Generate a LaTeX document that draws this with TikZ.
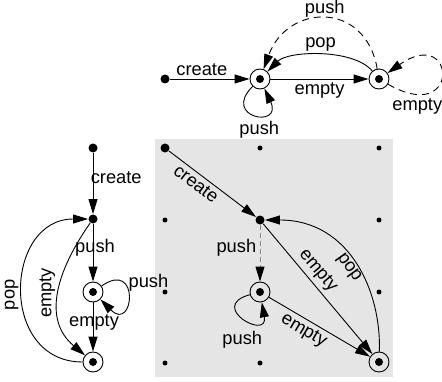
\documentclass[tikz,border=0pt]{standalone}
\usepackage{fontspec}
\setmainfont{Liberation Sans}
\usetikzlibrary{arrows.meta}
\tikzset{
	bullet/.style={circle, fill=black, inner sep=0pt, minimum size=9pt},
	griddot/.style={circle, fill=black, inner sep=0pt, minimum size=5pt},
	accept/.style={circle, draw, inner sep=0pt, minimum size=20pt,
		path picture={\fill (path picture bounding box.center) circle (4pt);}},
	dashline/.style={dash pattern=on 7pt off 5pt},
}

\begin{document}
\begin{tikzpicture}[x=1pt, y=1pt, line width=0.9pt,
		>={Triangle[length=15pt,width=9pt]},
		font=\fontsize{18.3pt}{22pt}\selectfont]
		\useasboundingbox (0,0) rectangle (442,381);
		%%%%% GREY PANEL %%%%%
		\fill[black!10] (155,4) rectangle (393,242);
		\foreach \x/\y in {260/233, 379/233, 165/161, 379/161, 165/89, 379/89, 165/18, 260/18}
			\node[griddot] at (\x,\y) {};
		
		%%%%% TOP %%%%%
		\node[bullet] (tStart) at (165,302) {};
		\node[accept] (tA) at (260,302) {};
		\node[accept] (tB) at (379,302) {};
		
		\draw[->] (tStart) -- node[above, pos=0.4] {create} (tA);
		\draw[->] (tA) -- node[below] {empty} (tB);
		\draw[->] (tB) .. controls +(130:40) and +(45:40) .. node[above] {pop} (tA);
		\draw[->, dashline] (tB) .. controls +(100:80) and +(70:80) .. node[above, inner sep=1.5pt] {push} (tA);
		\draw[->] (tA) .. controls +(225:55) and +(-65:55) .. node[pos=0.6, below=3pt] {push} (tA);
		\draw[->, dashline] (tB) .. controls +(-30:95) and +(35:95) .. node[pos=0.16, below] {empty} (tB);
		
		%%%%% LEFT %%%%%
		\node[bullet] (lStart) at (93,233) {};
		\node[bullet] (lNode) at (93,162) {};
		\node[accept] (lMid) at (93,89) {};
		\node[accept] (lEnd) at (93,19) {};
		
		\draw[->] (lStart) -- node[pos=0.4, right, xshift=-6pt] {create} (lNode);
		\draw[->] (lNode) -- node[pos=0.42, xshift=2pt] {push} (lMid);
		\draw[->] (lMid) -- node[pos=0.4, xshift=1pt] {empty} (lEnd);
		\draw[->] (lMid) .. controls +(35:58) and +(-45:58) .. node[pos=0.3, right] {push} (lMid);
		\draw[->] (lEnd) to[out=180, in=180, looseness=1.5] node[pos=0.48, rotate=90, above] {pop} (lNode);
		\draw[->] (lNode) to[out=235, in=140, looseness=1.1] node[pos=0.5, rotate=90, above] {empty} (lEnd);
		
		%%%%% PANEL %%%%%
		\node[bullet] (gStart) at (165,233) {};
		\node[bullet] (gNode) at (260,161) {};
		\node[accept] (gMid) at (260,89) {};
		\node[accept] (gEnd) at (379,19) {};
		
		\draw[->] (gStart) -- node[sloped, below, pos=0.38] {create} (gNode);
		\draw[-{Triangle[length=15pt,width=9pt,black]}, black!45, dash pattern=on 5pt off 3pt]
			(gNode) -- node[left, black, pos=0.4] {push} (gMid);
		\draw[->] (gNode) -- node[sloped, above, pos=0.42] {empty} (gEnd);
		\draw[->] (gEnd) .. controls +(88:70) and +(0:90) .. node[sloped, below, pos=0.5, inner sep=0.5pt] {pop} (gNode);
		\draw[->] (gMid) -- node[sloped, below, pos=0.4] {empty} (gEnd);
		\draw[->] (gMid) .. controls +(195:55) and +(-80:50) .. node[below=10pt] {push} (gMid);
		%%%%% END %%%%%
	\end{tikzpicture}
\end{document}
